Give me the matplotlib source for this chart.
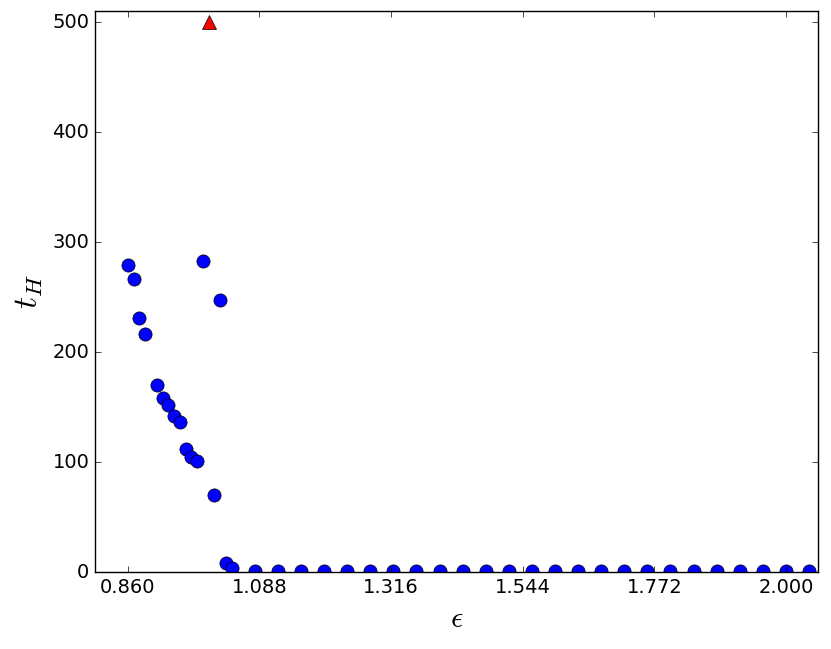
import matplotlib
matplotlib.use('Agg')
import matplotlib.pyplot as plt
import numpy as np

# epsilon values and hitting times
eps = [0.86, 0.87, 0.88, 0.89, 0.91, 0.92, 0.93, 0.94, 0.95, 0.96, 0.97, 0.98,
       0.99, 1.01, 1.02, 1.03, 1.04,
       1.08, 1.12, 1.16, 1.20, 1.24, 1.28, 1.32, 1.36, 1.40, 1.44, 1.48, 1.52,
       1.56, 1.60, 1.64, 1.68, 1.72, 1.76, 1.80, 1.84, 1.88, 1.92, 1.96, 2.00, 2.04]
t_h = [279, 266, 231, 216, 170, 158, 152, 142, 136, 112, 105, 101,
       283, 70, 247, 8, 3.5,
       1.2, 1.2, 1, 1, 1, 1, 1, 1, 1, 1, 1, 1,
       1, 1, 1, 1, 1, 1, 1, 1, 1, 1, 1, 1, 1]

# run that hit the time cap
eps_cap = [1.00]
t_cap = [500]

xticks = np.linspace(0.86, 2.0, 6)

plt.style.use('classic')
plt.rcParams['mathtext.fontset'] = 'cm'

fig = plt.figure(figsize=(8.31, 6.49), dpi=100, facecolor='white')
ax = fig.add_axes([0.1143, 0.1186, 0.8703, 0.8644])

ax.plot(eps, t_h, 'o', color='blue', markeredgecolor='black', markersize=9.5, clip_on=True)
ax.plot(eps_cap, t_cap, '^', color='red', markeredgecolor='black', markersize=9.5)

ax.set_xlim(0.803, 2.056)
ax.set_ylim(0, 510)
ax.set_xticks(xticks)
ax.set_xticklabels(['%.3f' % t for t in xticks])
ax.set_yticks([0, 100, 200, 300, 400, 500])
ax.tick_params(labelsize=14)

ax.set_xlabel(r'$\epsilon$', fontsize=22)
ax.set_ylabel(r'$t_H$', fontsize=24)

fig.savefig('out.png', dpi=100, facecolor='white')
